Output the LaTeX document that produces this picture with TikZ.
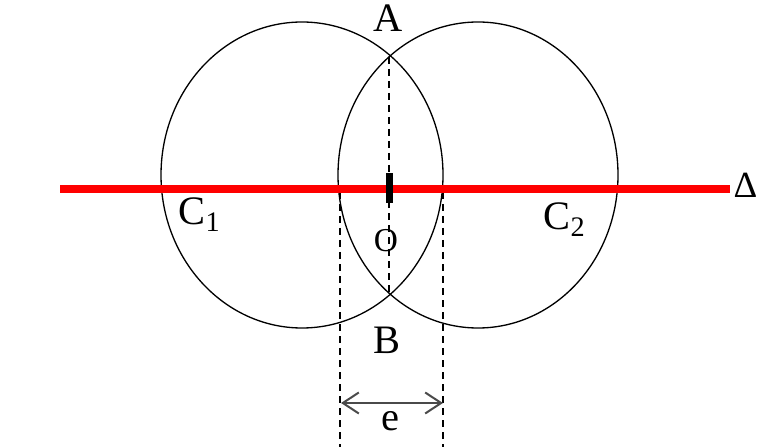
\documentclass[tikz,border=0pt]{standalone}
\usepackage{fontspec}
\setmainfont{Liberation Serif}
\usetikzlibrary{arrows.meta}
\definecolor{axisred}{HTML}{FF0000}
\definecolor{arrowgray}{HTML}{4A4A4A}

\begin{document}
\begin{tikzpicture}[x=0.2mm, y=-0.2mm, line width=0.75pt,
    lbl/.style={inner sep=0pt, font=\fontsize{23}{27}\selectfont},
    dashline/.style={line width=0.9pt, dash pattern=on 1.4mm off 1mm}]
  \useasboundingbox (0,0) rectangle (759,447);
  % centres and crossing points
  \coordinate (o1) at (302,175);
  \coordinate (o2) at (478,175);
  \coordinate (ptA) at (389,57);
  \coordinate (ptB) at (389,294);
  \coordinate (dl) at (340,447);
  \coordinate (dr) at (443,447);
  \draw (o1) ellipse [x radius=28.2mm, y radius=30.6mm];
  \draw (o2) ellipse [x radius=28mm, y radius=30.6mm];
  \draw[dashline] (ptA) -- (ptB);
  \draw[dashline] (340,192) -- (dl);
  \draw[dashline] (443,192) -- (dr);
  % axis
  \draw[axisred, line width=1.5mm] (60,189) coordinate (axl) -- (730,189) coordinate (axr);
  \fill (385.5,173) rectangle (392.5,203);
  \draw[arrowgray, line width=0.4mm, {Straight Barb[length=3.2mm, width=4.2mm]}-{Straight Barb[length=3.2mm, width=4.2mm]}]
    (341,403) coordinate (el) -- (443,403) coordinate (er);
  % labels
  \node[lbl, anchor=base] (labA) at (388,32) {A};
  \node[lbl, anchor=base] (labB) at (387,353) {B};
  \node[lbl, anchor=base, font=\fontsize{19}{23}\selectfont] (labO) at (386,252) {O};
  \node[lbl, anchor=base] (labE) at (390,430) {e};
  \node[lbl, anchor=base east, font=\fontsize{21}{25}\selectfont] (labD) at (758,198) {Δ};
  \node[lbl, anchor=base west] (labC1) at (178,225) {C\textsubscript{1}};
  \node[lbl, anchor=base west] (labC2) at (543,230) {C\textsubscript{2}};
\end{tikzpicture}
\end{document}
